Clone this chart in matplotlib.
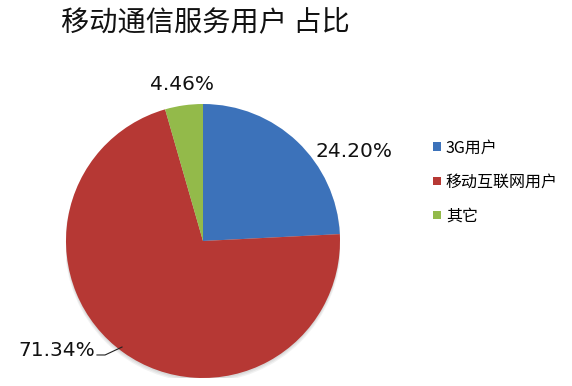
import matplotlib
matplotlib.use("Agg")
import matplotlib.pyplot as plt
from matplotlib.patches import Patch, Circle

plt.rcParams['font.family'] = ['Noto Sans CJK SC', 'DejaVu Sans']

# Data
categories = ["3G用户", "移动互联网用户", "其它"]
shares = [24.20, 71.34, 4.46]
colors = ["#3C72BA", "#B63834", "#93BA4A"]
title = "移动通信服务用户 占比"

W, H = 572, 386
fig = plt.figure(figsize=(W / 100, H / 100), dpi=100)
fig.patch.set_facecolor("white")

# Pie axes: centre (203, 241) px, radius 137 px
cx, cy, r = 203, 241, 137
ax = fig.add_axes([(cx - r) / W, (H - cy - r) / H, 2 * r / W, 2 * r / H])

# Soft drop shadow beneath the pie
for i, a in enumerate([0.05, 0.05, 0.05]):
    ax.add_patch(Circle((0.0, -0.012 - 0.006 * i), 1.0 + 0.004 * i,
                        facecolor="#000000", alpha=a, edgecolor="none",
                        zorder=0))

wedges, _ = ax.pie(shares, colors=colors, startangle=90, counterclock=False,
                   radius=1.0, center=(0, 0), frame=False)
for w in wedges:
    w.set_zorder(2)
ax.set_xlim(-1, 1)
ax.set_ylim(-1, 1)
ax.set_aspect("auto")
ax.axis("off")

# Percentage labels
label_pos = [(1.102, 0.650), (-1.066, -0.796), (-0.153, 1.139)]
for val, (x, y) in zip(shares, label_pos):
    ax.text(x, y, f"{val:.2f}%", ha="center", va="center", fontsize=14.5,
            family=["DejaVu Sans"], color="#111111", clip_on=False)

# Leader line for the large slice
ax.plot([-0.774, -0.715, -0.591], [-0.832, -0.832, -0.774], color="#222222",
        lw=0.8, clip_on=False, zorder=3)

# Title
fig.text(205 / W, 1 - 22 / H, title, ha="center", va="center", fontsize=20.3,
         color="#111111")

# Legend
handles = [Patch(facecolor=c, edgecolor="none") for c in colors]
leg = fig.legend(handles, categories, loc="upper left",
                 bbox_to_anchor=(427 / W, 1 - 133 / H), frameon=False,
                 fontsize=11.5, handlelength=0.45, handleheight=0.45,
                 handletextpad=0.33, labelspacing=1.08, borderaxespad=0)

fig.savefig("out.png", dpi=100, facecolor="white")
